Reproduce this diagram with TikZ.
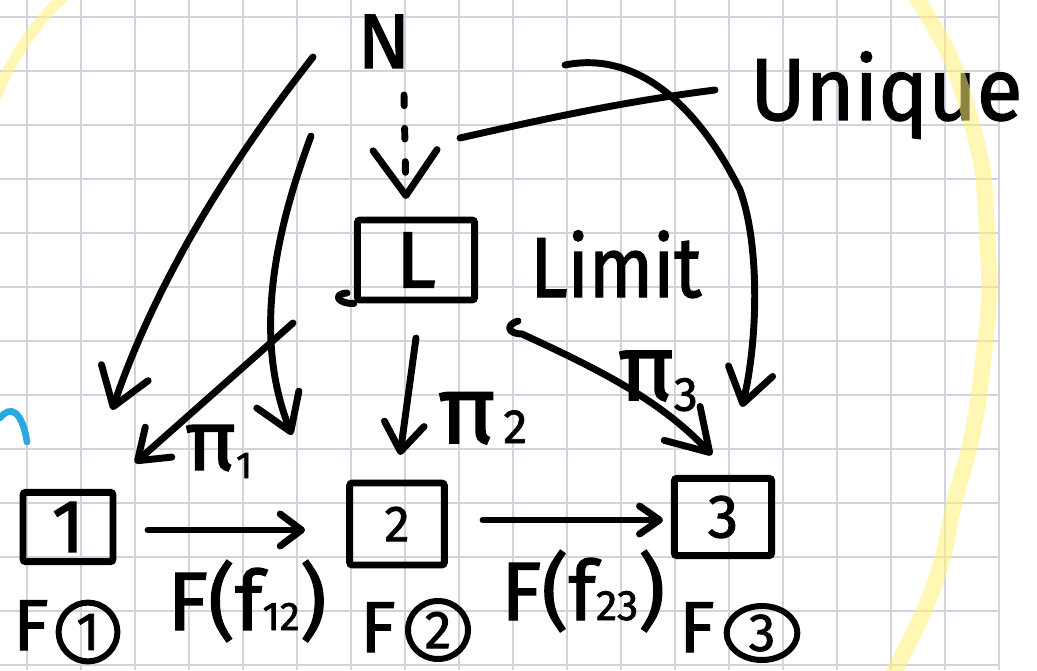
\documentclass[tikz,border=0pt]{standalone}
\usepackage{fontspec}
\setmainfont{Fira Sans}
\newfontfamily\hand{Fira Sans}[FakeBold=1.6]
\usepackage{graphicx}
\usetikzlibrary{arrows.meta,shapes.geometric}
\definecolor{gridc}{HTML}{D3D3DD}
\definecolor{hl}{RGB}{255,242,118}
\definecolor{pen}{HTML}{29A9E1}
\newcommand\hws[1]{\fontsize{#1}{#1}\selectfont}
\begin{document}
\begin{tikzpicture}[x=0.75pt,y=-0.75pt,
  ink/.style={line width=5.2pt, line cap=round, line join=round, black},
  harr/.style 2 args={-{Straight Barb[length=#1,width=#2,round,line width=5.2pt]}},
  box/.style={draw, line width=5.2pt, rounded corners=2pt, inner sep=0pt, font=\hand},
  txt/.style={inner sep=0pt, text=black, font=\hand},
  ring/.style={ellipse, draw, line width=4.5pt, inner sep=0pt, font=\hand},
  gridline/.style={gridc, line width=1.5pt},
  hlstroke/.style={hl, opacity=0.55, line width=12pt, line cap=round}]
\fill[white] (0,0) rectangle (1037,670);
\useasboundingbox (0,0) rectangle (1037,670);
% grid
\foreach \i in {0,...,18} \draw[gridline] ({26.7+54*\i},0) -- ({26.7+54*\i},670);
\foreach \j in {0,...,12} \draw[gridline] (0,{17.3+54*\j}) -- (999,{17.3+54*\j});
% blue fragment
\draw[pen, line width=5pt, line cap=round] (0,418) .. controls (10,405) and (22,410) .. (27,442);
% nodes
\node[txt, anchor=base] (N) at (384,68) {\hws{58}N};
\node[box, minimum width=88pt, minimum height=60pt] (L) at (416,260) {\hws{60}L};
\node[txt, anchor=base west] (lim) at (530,297) {\hws{64}\scalebox{0.88}[1]{Limit}};
\node[txt, anchor=base west] (uq) at (750,120) {\hws{66}\scalebox{0.95}[1]{Unique}};
\node[box, minimum width=67.5pt, minimum height=52pt] (b1) at (68,527) {\hws{56}1};
\node[box, minimum width=71pt, minimum height=61.5pt] (b2) at (397,524) {\hws{38}2};
\node[box, minimum width=73pt, minimum height=58pt] (b3) at (723,517) {\hws{46}3};
\node[txt, anchor=base west] (p1) at (185,470) {\hws{64}π\raisebox{-6pt}{\hws{28}1}};
\node[txt, anchor=base west] (p2) at (438,443) {\hws{72}π\hspace{6pt}\hws{36}2};
\node[txt, anchor=base west] (p3) at (618,400) {\hws{70}π\raisebox{-8pt}{\hws{36}3}};
\node[txt, anchor=base] (f12) at (247,630) {\hws{62}F(f{\hws{30}12})};
\node[txt, anchor=base] (f23) at (583,620) {\hws{62}F(f{\hws{32}23})};
\node[txt, anchor=base] (F1) at (31,650) {\hws{54}F};
\node[ring, minimum width=44pt, minimum height=44pt] (c1) at (88,632) {\hws{40}1};
\node[txt, anchor=base] (F2) at (378,652) {\hws{54}F};
\node[ring, minimum width=45pt, minimum height=43.5pt] (c2) at (438,630) {\hws{40}2};
\node[txt, anchor=base] (F3) at (697,652) {\hws{54}F};
\node[ring, minimum width=53pt, minimum height=40.5pt] (c3) at (762,633) {\hws{40}3};
% connector ends
\coordinate (ds) at (404,95);  \coordinate (de) at (406,199);
\coordinate (n1s) at (313,57); \coordinate (n1e) at (112,410);
\coordinate (n2s) at (311,136); \coordinate (n2e) at (292,435);
\coordinate (n3s) at (565,65); \coordinate (n3m) at (740,190); \coordinate (n3e) at (742,407);
\coordinate (p1s) at (293,323); \coordinate (p1e) at (135,463);
\coordinate (p2s) at (416,338); \coordinate (p2e) at (400,455);
\coordinate (p3s) at (518,321); \coordinate (p3e) at (712,455);
\coordinate (a12s) at (148,530); \coordinate (a12e) at (305,530);
\coordinate (a23s) at (483,520); \coordinate (a23e) at (663,520);
\coordinate (u0) at (460,138); \coordinate (u1) at (715,90);
% connectors
\draw[ink, dash pattern=on 8pt off 17pt, harr={34pt}{48pt}] (ds) -- (de);
\draw[ink, harr={27pt}{37pt}] (n1s) .. controls (240,150) and (160,270) .. (n1e);
\draw[ink, harr={26pt}{34pt}] (n2s) .. controls (280,220) and (250,330) .. (n2e);
\draw[ink, harr={25pt}{34pt}] (n3s) .. controls (640,50) and (700,110) .. (n3m) .. controls (760,245) and (758,340) .. (n3e);
\draw[ink, harr={21pt}{30pt}] (p1s) -- (p1e);
\draw[ink, harr={21pt}{30pt}] (p2s) -- (p2e);
\draw[ink, harr={30pt}{37pt}] (p3s) .. controls (505,325) and (508,334) .. (522,334) .. controls (600,370) and (660,400) .. (p3e);
\draw[ink, harr={16pt}{24pt}] (a12s) -- (a12e);
\draw[ink, harr={15pt}{21pt}] (a23s) -- (a23e);
\draw[ink] (u0) .. controls (540,120) and (620,102) .. (u1);
\draw[ink] (L.south west) .. controls (338,304) and (332,294) .. (347,293);
% highlighter
\draw[hlstroke, line width=8pt] (63,-3) .. controls (40,20) and (15,50) .. (-3,95);
\draw[hlstroke] plot[smooth] coordinates {(915,-5) (947,50) (965,100) (982,167) (987,233) (989,300) (979,395) (969,449) (954,503) (943,557) (924,611) (894,672)};
\end{tikzpicture}
\end{document}
